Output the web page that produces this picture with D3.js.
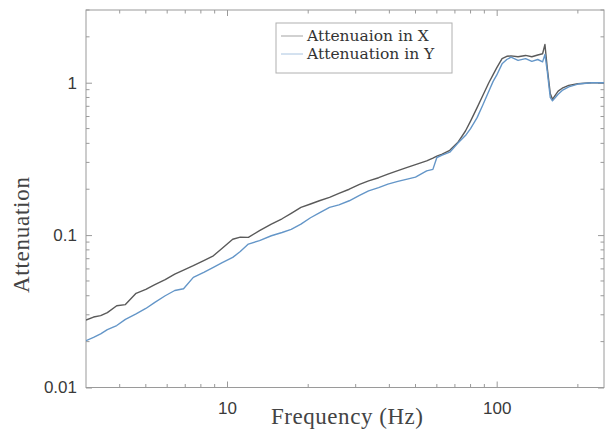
<!DOCTYPE html>
<html>
<head>
<meta charset="utf-8">
<script src="https://cdn.jsdelivr.net/npm/d3@7"></script>
<style>
  html, body { margin: 0; padding: 0; background: #fff; }
  svg { display: block; }
</style>
</head>
<body>
<svg id="chart" width="607" height="435"></svg>
<script>
// ---- data ----
const freq = [3, 3.2, 3.4, 3.6, 3.9, 4.2, 4.6, 5.0, 5.4, 5.9, 6.4, 6.9, 7.5, 8.2, 8.9, 9.6,
  10.5, 11.2, 12.0, 13.2, 14.6, 16.0, 17.3, 18.8, 20.4, 22.0, 24.0, 26.0, 28.4, 31.0, 33.5,
  36.5, 39.5, 43, 46.6, 50, 55, 58, 60, 62.8, 67, 71.7, 76.6, 80, 84.6, 89, 93.5, 97, 100,
  104.7, 109, 113, 120, 128, 135, 142, 148, 151, 154, 158, 161, 165, 169, 175, 185, 200, 225, 250];
const attX = [0.0277, 0.029, 0.0296, 0.031, 0.0344, 0.035, 0.0415, 0.044, 0.0473, 0.051, 0.0555,
  0.059, 0.063, 0.068, 0.0732, 0.082, 0.094, 0.097, 0.0967, 0.107, 0.118, 0.128, 0.139, 0.152,
  0.160, 0.168, 0.177, 0.188, 0.200, 0.215, 0.227, 0.238, 0.251, 0.265, 0.278, 0.290, 0.307,
  0.32, 0.33, 0.34, 0.36, 0.405, 0.482, 0.56, 0.686, 0.83, 1.0, 1.13, 1.25, 1.44, 1.49, 1.5,
  1.48, 1.51, 1.48, 1.52, 1.55, 1.78, 1.25, 0.85, 0.778, 0.83, 0.88, 0.92, 0.96, 0.985, 1.0, 1.0];
const attY = [0.0203, 0.0213, 0.0225, 0.024, 0.0255, 0.028, 0.0304, 0.033, 0.0362, 0.040, 0.0433,
  0.0445, 0.0528, 0.057, 0.0614, 0.066, 0.0714, 0.078, 0.0873, 0.092, 0.099, 0.104, 0.109, 0.118,
  0.130, 0.140, 0.152, 0.158, 0.168, 0.182, 0.195, 0.205, 0.216, 0.225, 0.233, 0.24, 0.264,
  0.27, 0.323, 0.335, 0.35, 0.40, 0.45, 0.50, 0.59, 0.72, 0.88, 1.02, 1.12, 1.33, 1.42, 1.47,
  1.40, 1.44, 1.38, 1.42, 1.37, 1.53, 1.19, 0.80, 0.76, 0.80, 0.84, 0.89, 0.94, 0.98, 1.0, 1.0];
const seriesNames = ["Attenuaion in X", "Attenuation in Y"];
const seriesColors = ["#5a5a5a", "#6496c8"];
const xMajorTicks = [10, 100];
const xMinorTicks = [4, 5, 6, 7, 8, 9, 20, 30, 40, 50, 60, 70, 80, 90, 200];
const yMajorTicks = [0.01, 0.1, 1];
const yMinorTicks = [0.02, 0.03, 0.04, 0.05, 0.06, 0.07, 0.08, 0.09, 0.2, 0.3, 0.4, 0.5, 0.6, 0.7, 0.8, 0.9, 2, 3];
const xDomain = [3, 250];
const yDomain = [0.01, 3];
const xTitle = "Frequency (Hz)";
const yTitle = "Attenuation";

(function () {
const svg = d3.select("#chart");
const L = 86, R = 604, T = 10, B = 387.5;
const x = d3.scaleLog().domain(xDomain).range([L, R]);
const y = d3.scaleLog().domain(yDomain).range([B, T]);
const axisColor = "#9a9a9a";
const serif = "'Liberation Serif', 'Times New Roman', serif";

svg.append("rect").attr("x", L).attr("y", T).attr("width", R - L).attr("height", B - T)
  .attr("fill", "#fff").attr("stroke", axisColor).attr("stroke-width", 1);

const fmt = d => (d >= 1 ? d3.format("d")(d) : String(d));

function styleAxis(g) {
  g.select(".domain").remove();
  g.selectAll(".tick line").attr("stroke", axisColor);
  g.selectAll(".tick text").attr("fill", "#3a3a3a")
    .style("font-family", "'Liberation Sans', Arial, sans-serif").style("font-size", "17px");
}
const gBottom = svg.append("g").attr("transform", `translate(0,${B})`)
  .call(d3.axisBottom(x).tickValues(xMajorTicks).tickFormat(fmt).tickSizeInner(-6).tickSizeOuter(0).tickPadding(14));
styleAxis(gBottom);
gBottom.append("g").selectAll("line").data(xMinorTicks).join("line")
  .attr("x1", d => x(d)).attr("x2", d => x(d)).attr("y1", 0).attr("y2", -3.5).attr("stroke", axisColor);

const gTop = svg.append("g").attr("transform", `translate(0,${T})`)
  .call(d3.axisTop(x).tickValues(xMajorTicks).tickFormat("").tickSizeInner(-6).tickSizeOuter(0));
styleAxis(gTop);
gTop.append("g").selectAll("line").data(xMinorTicks).join("line")
  .attr("x1", d => x(d)).attr("x2", d => x(d)).attr("y1", 0).attr("y2", 3.5).attr("stroke", axisColor);

const gLeft = svg.append("g").attr("transform", `translate(${L},0)`)
  .call(d3.axisLeft(y).tickValues(yMajorTicks).tickFormat(fmt).tickSizeInner(-6).tickSizeOuter(0).tickPadding(9));
styleAxis(gLeft);
gLeft.append("g").selectAll("line").data(yMinorTicks).join("line")
  .attr("y1", d => y(d)).attr("y2", d => y(d)).attr("x1", 0).attr("x2", 3.5).attr("stroke", axisColor);

const gRight = svg.append("g").attr("transform", `translate(${R},0)`)
  .call(d3.axisRight(y).tickValues(yMajorTicks).tickFormat("").tickSizeInner(-6).tickSizeOuter(0));
styleAxis(gRight);
gRight.append("g").selectAll("line").data(yMinorTicks).join("line")
  .attr("y1", d => y(d)).attr("y2", d => y(d)).attr("x1", 0).attr("x2", -3.5).attr("stroke", axisColor);

svg.append("clipPath").attr("id", "clip").append("rect")
  .attr("x", L).attr("y", T).attr("width", R - L).attr("height", B - T);

const line = d3.line().x(d => x(d[0])).y(d => y(d[1]));
[attX, attY].forEach((vals, i) => {
  svg.append("path").datum(freq.map((f, j) => [f, vals[j]]))
    .attr("clip-path", "url(#clip)")
    .attr("fill", "none").attr("stroke", seriesColors[i]).attr("stroke-width", 1.4)
    .attr("stroke-linejoin", "round").attr("d", line);
});

svg.append("text").attr("x", 347).attr("y", 424).attr("text-anchor", "middle")
  .attr("textLength", 152).attr("lengthAdjust", "spacing")
  .style("font-family", serif).style("font-size", "23px")
  .attr("fill", "#444").text(xTitle);
svg.append("text").attr("transform", `translate(29,235) rotate(-90)`)
  .attr("text-anchor", "middle").attr("textLength", 116).attr("lengthAdjust", "spacing")
  .style("font-family", serif).style("font-size", "23px")
  .attr("fill", "#444").text(yTitle);

const lg = svg.append("g");
lg.append("rect").attr("x", 276).attr("y", 23).attr("width", 176).attr("height", 50)
  .attr("fill", "#fff").attr("stroke", "#b0b0b0").attr("stroke-width", 1);
seriesNames.forEach((name, i) => {
  const yy = 36 + i * 18;
  lg.append("line").attr("x1", 281).attr("x2", 303).attr("y1", yy).attr("y2", yy)
    .attr("stroke", seriesColors[i]).attr("stroke-width", 1).attr("opacity", 0.55);
  lg.append("text").attr("x", 307).attr("y", yy + 5)
    .style("font-family", "'DejaVu Serif', serif").style("font-size", "15.5px")
    .attr("fill", "#333").text(name);
});
})();
</script>
</body>
</html>
